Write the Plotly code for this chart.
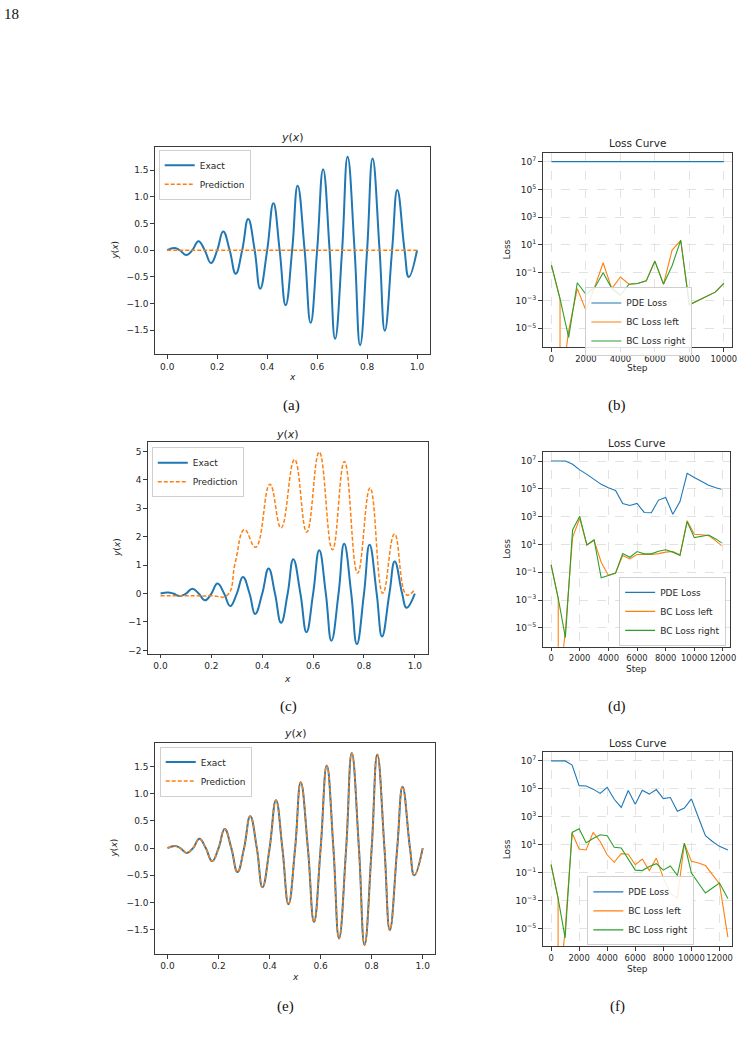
import plotly.graph_objects as go

# ---------------- data ----------------
# Exact solution y(x): extrema and zero crossings
X_EXACT = [0.000, 0.030, 0.050, 0.076, 0.100, 0.125, 0.150, 0.175, 0.200, 0.224,
           0.250, 0.274, 0.300, 0.324, 0.350, 0.372, 0.400, 0.425, 0.450, 0.474,
           0.500, 0.522, 0.550, 0.574, 0.600, 0.624, 0.650, 0.672, 0.700, 0.722,
           0.750, 0.772, 0.800, 0.822, 0.850, 0.871, 0.900, 0.921, 0.950, 0.967, 1.000]
Y_EXACT = [0.0, 0.04, 0.0, -0.09, 0.0, 0.17, 0.0, -0.24, 0.0, 0.35,
           0.0, -0.44, 0.0, 0.585, 0.0, -0.72, 0.0, 0.88, 0.0, -1.03,
           0.0, 1.21, 0.0, -1.36, 0.0, 1.52, 0.0, -1.66, 0.0, 1.75,
           0.0, -1.78, 0.0, 1.72, 0.0, -1.51, 0.0, 1.13, 0.0, -0.50, 0.0]

# (a) prediction: flat
X_PRED_A = [0.0, 1.0]
Y_PRED_A = [0.0, 0.0]

# (c) prediction
X_PRED_C = [0.0, 0.10, 0.20, 0.262, 0.294, 0.330, 0.374, 0.430, 0.474, 0.527,
            0.575, 0.624, 0.676, 0.723, 0.775, 0.824, 0.874, 0.920, 0.968, 1.0]
Y_PRED_C = [-0.08, -0.08, -0.08, -0.06, 1.10, 2.25, 1.63, 3.85, 2.31, 4.72,
            2.16, 4.98, 1.54, 4.65, 0.72, 3.72, 0.01, 2.10, -0.05, 0.15]

# (e) prediction equals the exact curve
X_PRED_E = X_EXACT
Y_PRED_E = Y_EXACT

# (b) loss curves
STEPS_B = [0, 500, 1000, 1500, 2000, 2500, 3000, 3500, 4000, 4500, 5000,
           5500, 6000, 6500, 7000, 7500, 8000, 8500, 9000, 9500, 10000]
PDE_B = [1e7, 1e7, 1e7, 1e7, 1e7, 1e7, 1e7, 1e7, 1e7, 1e7, 1e7,
         1e7, 1e7, 1e7, 1e7, 1e7, 1e7, 1e7, 1e7, 1e7, 1e7]
RIGHT_B = [3.5e-1, 1.3e-3, 2.2e-6, 1.9e-2, 2.8e-3, 8.1e-3, 1.0e-1, 7.6e-3, 2.4e-3, 1.5e-2, 1.7e-2,
           2.6e-2, 6.9e-1, 1.5e-2, 3.2e-1, 2.2e1, 4.9e-4, 1.0e-3, 2.0e-3, 4.0e-3, 1.7e-2]
STEPS_B_LEFT = [0, 500, 500, 1000, 1500, 2000, 2500, 3000, 3500, 4000, 4500, 5000,
                5500, 6000, 6500, 7000, 7500, 8000, 8500, 9000, 9500, 10000]
LEFT_B = [3.5e-1, 1.3e-3, 1e-10, 6.8e-6, 7.2e-3, 2.0e-4, 8.5e-3, 5.2e-1, 7.2e-3, 4.9e-2, 1.5e-2, 1.7e-2,
          2.6e-2, 6.9e-1, 1.5e-2, 4.3e0, 2.1e1, 4.9e-4, 1.0e-3, 2.0e-3, 4.0e-3, 1.7e-2]

# (d) loss curves
STEPS_D = [0, 500, 1000, 1500, 2000, 2500, 3000, 3500, 4000, 4500, 5000, 5500,
           6000, 6500, 7000, 7500, 8000, 8500, 9000, 9500, 10000, 10500, 11000, 11500, 11900]
PDE_D = [1e7, 1e7, 1e7, 5.8e6, 2.3e6, 1.1e6, 4.9e5, 2.1e5, 1.2e5, 7.6e4, 8.9e3, 6.3e3,
         8.9e3, 2.0e3, 1.9e3, 1.55e4, 2.4e4, 1.5e3, 1.2e4, 1.3e6, 6.5e5, 3.3e5, 1.8e5, 1.2e5, 9.3e4]
RIGHT_D = [3.4e-1, 1.3e-3, 2.0e-6, 1.1e2, 1.05e3, 9.1e0, 2.2e1, 4.0e-2, 5.9e-2, 8.7e-2, 2.2e0, 1.2e0,
           3.1e0, 2.1e0, 2.1e0, 3.2e0, 4.1e0, 2.8e0, 1.6e0, 4.3e2, 3.1e1, 3.8e1, 4.8e1, 2.5e1, 1.3e1]
STEPS_D_LEFT = [0, 500, 500, 1000, 1500, 2000, 2500, 3000, 3500, 4000, 4500, 5000, 5500,
                6000, 6500, 7000, 7500, 8000, 8500, 9000, 9500, 10000, 10500, 11000, 11500, 11900]
LEFT_D = [3.4e-1, 1.3e-3, 1e-10, 6.8e-6, 3.2e1, 7.4e2, 9.1e0, 1.9e1, 5.2e-1, 5.9e-2, 8.7e-2, 1.6e0, 9.1e-1,
          1.9e0, 1.9e0, 1.9e0, 2.2e0, 2.8e0, 3.1e0, 1.8e0, 5.1e2, 5.4e1, 5.0e1, 4.3e1, 1.8e1, 8.3e0]

# (f) loss curves
STEPS_F = [0, 500, 1000, 1500, 2000, 2500, 3000, 3500, 4000, 4500, 5000, 5500, 6000,
           6500, 7000, 7500, 8000, 8500, 9000, 9500, 10000, 10500, 11000, 11500, 12000, 12600]
PDE_F = [1e7, 1e7, 1e7, 5.1e6, 1.7e5, 1.6e5, 9.5e4, 4.7e4, 1.3e5, 1.8e4, 4.7e3, 7.6e4, 7.9e3,
         7.9e4, 4.2e4, 8.9e4, 2.0e4, 2.4e4, 2.5e3, 4.2e3, 1.9e4, 8.9e2, 4.4e1, 1.7e1, 7.6e0, 4.2e0]
RIGHT_F = [3.7e-1, 1.5e-3, 2.1e-6, 7.6e1, 1.4e2, 1.4e1, 2.8e1, 5.1e1, 4.4e1, 6.5e0, 5.8e0, 9.5e-1, 1.5e-1,
           1.4e-1, 2.7e-1, 4.4e-1, 1.5e-1, 3.0e-1, 6.2e-2, 1.3e1, 9.5e-2, 1.8e-2, 3.5e-3, 7.9e-3, 1.8e-2, 1.4e-3]
STEPS_F_LEFT = [0, 500, 500, 1000, 1500, 2000, 2500, 3000, 3500, 4000, 4500, 5000, 5500, 6000,
                6500, 7000, 7500, 8000, 8500, 9000, 9500, 10000, 10500, 11000, 11500, 12000, 12600]
LEFT_F = [3.7e-1, 1.5e-3, 1e-10, 6.5e-6, 6.8e1, 4.9e0, 4.2e0, 7.6e1, 1.7e1, 1.9e0, 5.5e-1, 2.3e0, 2.1e0, 3.7e-1,
          9.5e-1, 1.4e-1, 1.1e0, 4.2e-2, 3.2e-3, 1.5e-3, 1.2e1, 6.5e-1, 4.9e-1, 3.2e-1, 7.1e-2, 1.6e-2, 2.4e-6]

LIN_X_TICKS = [0.0, 0.2, 0.4, 0.6, 0.8, 1.0]
LIN_X_TEXT = ["0.0", "0.2", "0.4", "0.6", "0.8", "1.0"]
Y_TICKS_AE = [-1.5, -1.0, -0.5, 0.0, 0.5, 1.0, 1.5]
Y_TEXT_AE = ["\u22121.5", "\u22121.0", "\u22120.5", "0.0", "0.5", "1.0", "1.5"]
Y_TICKS_C = [-2, -1, 0, 1, 2, 3, 4, 5]
Y_TEXT_C = ["\u22122", "\u22121", "0", "1", "2", "3", "4", "5"]
LOG_TICKS = [1e-5, 1e-3, 1e-1, 1e1, 1e3, 1e5, 1e7]
LOG_TEXT = ["10<sup>\u22125</sup>", "10<sup>\u22123</sup>", "10<sup>\u22121</sup>", "10<sup>1</sup>",
            "10<sup>3</sup>", "10<sup>5</sup>", "10<sup>7</sup>"]
STEP_TICKS_B = [0, 2000, 4000, 6000, 8000, 10000]
STEP_TICKS_DF = [0, 2000, 4000, 6000, 8000, 10000, 12000]

# ---------------- styling / layout ----------------
W, H = 751, 1049
BLUE, ORANGE, GREEN = "#1f77b4", "#ff7f0e", "#2ca02c"
FONT = "DejaVu Sans"
SERIF = "Liberation Serif"
INK = "#262626"

# axes boxes in page pixels: left, right, top, bottom
BOXES = {
    1: (156, 433, 147, 355),
    2: (547, 738, 153, 348),
    3: (149, 431, 443, 655),
    4: (547, 736, 453, 648),
    5: (156, 439, 744, 956),
    6: (547, 738, 753, 948),
}


def fx(p):
    return p / W


def fy(p):
    return 1 - p / H


fig = go.Figure()


def sfx(i):
    return "" if i == 1 else str(i)


def add(i, x, y, name, color, width, dash="solid", spline=False):
    fig.add_trace(go.Scatter(
        x=x, y=y, mode="lines", name=name,
        line=dict(color=color, width=width, dash=dash,
                  shape="spline" if spline else "linear", smoothing=1.3),
        xaxis="x" + sfx(i), yaxis="y" + sfx(i), legend="legend" + sfx(i),
        showlegend=True, hoverinfo="skip",
    ))


DASH = "4px,2px"
# (a)
add(1, X_EXACT, Y_EXACT, "Exact", BLUE, 2.0, spline=True)
add(1, X_PRED_A, Y_PRED_A, "Prediction", ORANGE, 1.5, DASH)
# (b)
add(2, STEPS_B, PDE_B, "PDE Loss", BLUE, 1.1)
add(2, STEPS_B_LEFT, LEFT_B, "BC Loss left", ORANGE, 1.1)
add(2, STEPS_B, RIGHT_B, "BC Loss right", GREEN, 1.1)
# (c)
add(3, X_EXACT, Y_EXACT, "Exact", BLUE, 2.0, spline=True)
add(3, X_PRED_C, Y_PRED_C, "Prediction", ORANGE, 1.5, DASH, spline=True)
# (d)
add(4, STEPS_D, PDE_D, "PDE Loss", BLUE, 1.1)
add(4, STEPS_D_LEFT, LEFT_D, "BC Loss left", ORANGE, 1.1)
add(4, STEPS_D, RIGHT_D, "BC Loss right", GREEN, 1.1)
# (e)
add(5, X_EXACT, Y_EXACT, "Exact", BLUE, 2.0, spline=True)
add(5, X_PRED_E, Y_PRED_E, "Prediction", ORANGE, 1.5, DASH, spline=True)
# (f)
add(6, STEPS_F, PDE_F, "PDE Loss", BLUE, 1.1)
add(6, STEPS_F_LEFT, LEFT_F, "BC Loss left", ORANGE, 1.1)
add(6, STEPS_F, RIGHT_F, "BC Loss right", GREEN, 1.1)


def base_axis():
    return dict(showline=True, mirror=True, linecolor="#3a3a3a", linewidth=1,
                ticks="outside", ticklen=3.5, tickwidth=1, tickcolor="#3a3a3a",
                tickfont=dict(family=FONT, size=9, color=INK), tickangle=0,
                zeroline=False, showgrid=False, fixedrange=True)


layout = dict(width=W, height=H, margin=dict(l=0, r=0, t=0, b=0),
              paper_bgcolor="white", plot_bgcolor="white", showlegend=True)

XR = {1: [-0.05, 1.05], 3: [-0.05, 1.05], 5: [-0.05, 1.05],
      2: [-510, 10480], 4: [-590, 12500], 6: [-600, 12900]}
YR = {1: [-1.95, 1.94], 3: [-2.12, 5.33], 5: [-1.95, 1.94],
      2: [-6.37, 7.64], 4: [-6.36, 7.64], 6: [-6.27, 7.67]}

for i, (l, r, t, b) in BOXES.items():
    xa = base_axis()
    ya = base_axis()
    xa.update(domain=[fx(l), fx(r)], range=XR[i], anchor="y" + sfx(i))
    ya.update(domain=[fy(b), fy(t)], range=YR[i], anchor="x" + sfx(i))
    if i in (1, 3, 5):
        xa.update(tickvals=LIN_X_TICKS, ticktext=LIN_X_TEXT)
        if i == 3:
            ya.update(tickvals=Y_TICKS_C, ticktext=Y_TEXT_C)
        else:
            ya.update(tickvals=Y_TICKS_AE, ticktext=Y_TEXT_AE)
    else:
        ticks = STEP_TICKS_B if i == 2 else STEP_TICKS_DF
        xa.update(tickvals=ticks, ticktext=[str(v) for v in ticks],
                  tickfont=dict(family=FONT, size=8.4, color=INK),
                  showgrid=True, gridcolor="#e2e2e2", griddash="dash", gridwidth=0.8)
        ya.update(type="log", tickvals=LOG_TICKS, ticktext=LOG_TEXT,
                  showgrid=True, gridcolor="#e2e2e2", griddash="dash", gridwidth=0.8)
    layout["xaxis" + sfx(i)] = xa
    layout["yaxis" + sfx(i)] = ya

# legends: anchor point of each box in page pixels
LEG_POS = {1: (160, 150, "left"), 2: (644, 288, "center"), 3: (153, 448, "left"),
           4: (732, 578, "right"), 5: (161, 748, "left"), 6: (646, 878, "center")}
for i, (lx, ly, anc) in LEG_POS.items():
    layout["legend" + sfx(i)] = dict(
        x=fx(lx), y=fy(ly), xanchor=anc, yanchor="top", xref="paper", yref="paper",
        bgcolor="rgba(255,255,255,0.85)", bordercolor="#cfcfcf", borderwidth=1,
        font=dict(family=FONT, size=9, color=INK), tracegroupgap=0, itemwidth=30,
    )

ann = []


def text(x, y, s, size=9, angle=0, family=FONT, color=INK):
    ann.append(dict(x=fx(x), y=fy(y), xref="paper", yref="paper", text=s, showarrow=False,
                    xanchor="center", yanchor="middle", textangle=angle,
                    font=dict(family=family, size=size, color=color)))


YX = "<i>y</i>(<i>x</i>)"
# titles
text(294.5, 138, YX, 11)
text(642.5, 143, "Loss Curve", 10.5)
text(290, 435, YX, 11)
text(641.5, 444, "Loss Curve", 10.5)
text(297.5, 735, YX, 11)
text(642.5, 744.5, "Loss Curve", 10.5)
# axis labels
text(115, 251, YX, 9, -90)
text(294.5, 378, "<i>x</i>", 9)
text(511, 250, "Loss", 9, -90)
text(642.5, 369, "Step", 9)
text(118, 549, YX, 9, -90)
text(290, 680, "<i>x</i>", 9)
text(511, 550, "Loss", 9, -90)
text(641.5, 670, "Step", 9)
text(115, 850, YX, 9, -90)
text(297.5, 979, "<i>x</i>", 9)
text(511, 851, "Loss", 9, -90)
text(642.5, 971, "Step", 9)
# sub-figure labels and page number
for (x, y, s) in [(294, 406, "(a)"), (622, 406, "(b)"), (291, 708, "(c)"),
                  (622, 708, "(d)"), (288, 1008, "(e)"), (622, 1008, "(f)")]:
    text(x, y, s, 15, family=SERIF, color="#111")
text(12, 14, "18", 15, family=SERIF, color="#111")

layout["annotations"] = ann
fig.update_layout(**layout)
fig.write_html("out.html")
